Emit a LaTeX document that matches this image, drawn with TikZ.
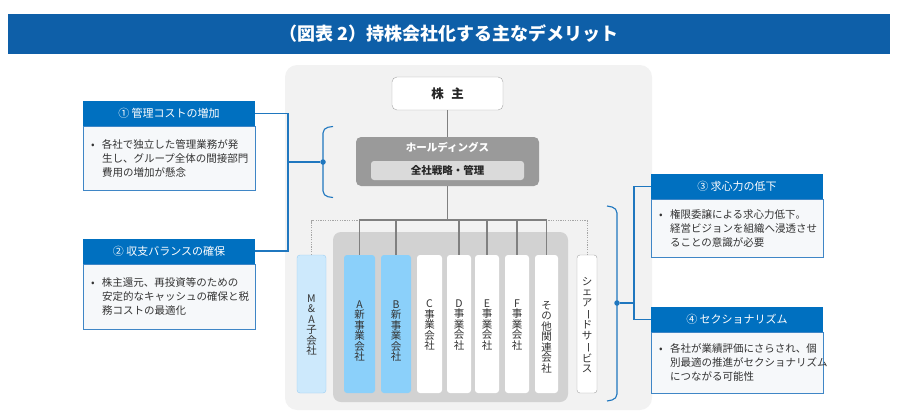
\documentclass[tikz,border=0pt]{standalone}
\usepackage{fontspec,graphicx}
\setmainfont{Noto Sans CJK JP}
\definecolor{titleblue}{HTML}{0E5FA8}
\definecolor{headblue}{HTML}{0070C0}
\definecolor{bodyline}{HTML}{3F86C6}
\definecolor{bodybg}{HTML}{F6F8FA}
\definecolor{linkblue}{HTML}{1F77BF}
\definecolor{panelbg}{HTML}{F2F2F2}
\definecolor{groupbg}{HTML}{D2D2D2}
\definecolor{holdgray}{HTML}{9A9A9A}
\definecolor{innergray}{HTML}{DADADA}
\definecolor{mablue}{HTML}{CDE9FC}
\definecolor{mabline}{HTML}{9ACFF3}
\definecolor{newblue}{HTML}{8BD0FA}
\definecolor{treegray}{HTML}{808080}
\definecolor{boxline}{HTML}{A6A6A6}
\definecolor{txtdark}{HTML}{262626}
\definecolor{txtgray}{HTML}{333333}
\newcommand{\bul}{\makebox[11pt][l]{•}}
\newcommand{\ind}{\hspace*{11pt}}
\newcommand{\vbar}{\rotatebox[origin=c]{-90}{ー}}

\begin{document}
\begin{tikzpicture}[x=1pt,y=-1pt,
  head style/.style={fill=headblue,text=white,minimum width=172pt,minimum height=25pt,inner sep=0pt,font=\fontsize{11}{13}\selectfont},
  body style/.style={draw=bodyline,fill=bodybg,text=txtgray,text width=156pt,inner xsep=8pt,align=left,anchor=north,font=\fontsize{10.5}{14}\selectfont},
  co style/.style={rounded corners=3pt,minimum height=138pt,inner sep=0pt},
  co text/.style={text=txtgray,align=center,inner sep=0pt,font=\fontsize{10.5}{10.5}\selectfont},
  link style/.style={draw=linkblue,line width=1.1pt},
  tree style/.style={draw=treegray,line width=1.2pt},
  dot line/.style={draw=boxline,line width=1pt,dash pattern=on 1.2pt off 1.2pt},
  dot style/.style={circle,fill=linkblue,inner sep=0pt,minimum size=5.5pt}]
\useasboundingbox (0,0) rectangle (901,415);

\node[fill=titleblue,text=white,minimum width=882pt,minimum height=40pt,font=\bfseries\fontsize{18}{20}\selectfont] (title) at (449,34) {（図表 2）持株会社化する主なデメリット};

% holding structure
\fill[panelbg,rounded corners=12pt] (285,65) rectangle (652,410);
\fill[groupbg,rounded corners=8pt] (333,232) rectangle (568,402);

\node[draw=boxline,fill=white,rounded corners=5pt,minimum width=111pt,minimum height=33pt,text=txtdark,font=\bfseries\fontsize{12.5}{14}\selectfont] (kabu) at (447.5,93.5) {株\hspace{0.6em}主};
\node[fill=holdgray,rounded corners=5pt,minimum width=183pt,minimum height=49pt] (hd) at (447.5,161.5) {};
\node[text=white,font=\bfseries\fontsize{10.5}{12}\selectfont] (hdname) at (447.5,147) {ホールディングス};
\node[fill=innergray,rounded corners=3pt,minimum width=153pt,minimum height=19pt,inner sep=0pt,text=txtdark,font=\bfseries\fontsize{10.5}{12}\selectfont] (strat) at (447.5,170.5) {全社戦略・管理};
\coordinate (bus) at (447.5,220);
\coordinate (dtop) at (0,220.5);

\node[co style,fill=mablue,draw=mabline,minimum width=29pt] (ma) at (311.5,324) {};
\node[co style,fill=newblue,minimum width=31pt] (a) at (359.5,324) {};
\node[co style,fill=newblue,minimum width=30pt] (b) at (396,324) {};
\node[co style,fill=white,minimum width=25pt] (c) at (429.5,324) {};
\node[co style,fill=white,minimum width=24pt] (d) at (459,324) {};
\node[co style,fill=white,minimum width=24pt] (e) at (487,324) {};
\node[co style,fill=white,minimum width=24pt] (f) at (517,324) {};
\node[co style,fill=white,minimum width=23pt] (o) at (546.5,324) {};
\node[co style,fill=white,draw=boxline,minimum width=20pt] (ss) at (587,324) {};

\node[co text] (tma) at (311.5,325) {M\\\&\\A\\子\\会\\社};
\node[co text] (ta) at (359.5,331) {A\\新\\事\\業\\会\\社};
\node[co text] (tb) at (396,331) {B\\新\\事\\業\\会\\社};
\node[co text] (tc) at (429.5,325) {C\\事\\業\\会\\社};
\node[co text] (td) at (459,325) {D\\事\\業\\会\\社};
\node[co text] (te) at (487,325) {E\\事\\業\\会\\社};
\node[co text] (tf) at (517,325) {F\\事\\業\\会\\社};
\node[co text] (to) at (546.5,337) {そ\\の\\他\\関\\連\\会\\社};
\node[co text] (tss) at (587,325) {シ\\ェ\\ア\\\vbar\\ド\\サ\\\vbar\\ビ\\ス};

\draw[tree style] (kabu) -- (hd);
\draw[tree style] (hd.south) -- (bus);
\draw[dot line] (ma.north) -- (ma.north |- dtop) -| (ss.north);
\draw[tree style] (a.north) -- (a.north |- bus) -| (o.north);
\foreach \n in {b,d,e,f}
  \draw[tree style] (\n.north) -- (\n.north |- bus);

% callouts
\node[head style] (h1) at (169,113.5) {① 管理コストの増加};
\node[body style,minimum height=64pt] (b1) at (h1.south) {\bul 各社で独立した管理業務が発\\\ind 生し、グループ全体の間接部門\\\ind 費用の増加が懸念};
\node[head style] (h2) at (169,251) {② 収支バランスの確保};
\node[body style,minimum height=65pt] (b2) at (h2.south) {\bul 株主還元、再投資等のための\\\ind 安定的なキャッシュの確保と税\\\ind 務コストの最適化};
\node[head style] (h3) at (737,186.5) {③ 求心力の低下};
\node[body style,minimum height=58pt] (b3) at (h3.south) {\bul 権限委譲による求心力低下。\\\ind 経営ビジョンを組織へ浸透させ\\\ind ることの意識が必要};
\node[head style] (h4) at (737,319.5) {④ セクショナリズム};
\node[body style,minimum height=61pt] (b4) at (h4.south) {\bul 各社が業績評価にさらされ、個\\\ind 別最適の推進がセクショナリズム\\\ind につながる可能性};

\coordinate (lbar) at (288,162);
\node[dot style] (ldot) at (323,162) {};
\draw[link style] (h1.east) -- (h1.east -| lbar) -- (h2.east -| lbar) -- (h2.east);
\draw[link style] (lbar) -- (ldot);
\draw[link style,rounded corners=5pt] (333,126.5) -- (323,128) -- (323,196) -- (333,197.5);

\coordinate (rbar) at (634,303);
\node[dot style] (rdot) at (617,303) {};
\draw[link style] (h3.west) -- (h3.west -| rbar) -- (h4.west -| rbar) -- (h4.west);
\draw[link style] (rdot) -- (rbar);
\draw[link style,rounded corners=5pt] (607,206) -- (617,208) -- (617,399) -- (607,401);
\end{tikzpicture}
\end{document}
